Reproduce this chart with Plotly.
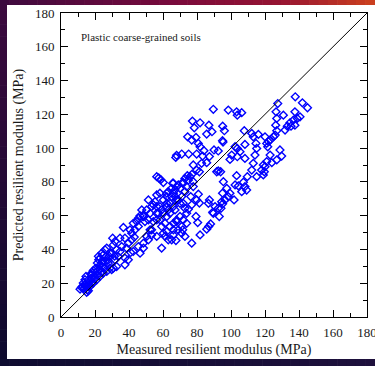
import plotly.graph_objects as go

# Measured resilient modulus (MPa)
measured = [
    11.2, 12.0, 12.7, 13.1, 13.5, 14.1, 14.1, 14.7, 14.5, 15.1, 15.5, 15.1, 16.1, 16.1, 16.7, 17.0,
    17.0, 17.5, 18.0, 18.0, 18.6, 18.5, 19.0, 19.0, 19.5, 20.0, 20.6, 21.0, 21.0, 21.4, 21.5, 22.0,
    22.2, 22.5, 22.9, 22.9, 22.9, 23.5, 23.9, 23.9, 23.9, 24.5, 24.9, 24.9, 25.5, 25.9, 25.9, 26.5,
    26.9, 26.9, 27.5, 27.8, 28.3, 28.8, 28.8, 29.8, 29.8, 30.4, 30.8, 30.8, 31.5, 31.8, 31.8, 32.7,
    32.7, 33.7, 34.7, 34.7, 35.7, 36.7, 37.6, 37.6, 37.6, 38.6, 39.6, 39.6, 40.6, 41.0, 41.6, 41.6,
    42.5, 42.5, 43.1, 43.5, 44.5, 45.5, 45.5, 45.5, 46.5, 46.5, 47.5, 48.5, 48.5, 48.5, 48.5, 49.4,
    50.4, 50.4, 51.4, 51.4, 51.4, 52.4, 52.4, 53.3, 53.3, 53.3, 54.3, 54.3, 55.3, 56.3, 56.3, 56.3,
    56.3, 56.3, 56.3, 57.3, 57.5, 58.2, 58.2, 58.2, 58.7, 59.2, 59.2, 59.2, 60.2, 60.2, 60.2, 60.2,
    61.2, 61.2, 62.2, 62.2, 62.2, 62.2, 62.2, 62.2, 63.1, 63.1, 63.1, 64.1, 64.1, 64.1, 65.1, 65.1,
    65.1, 65.7, 66.1, 66.1, 66.1, 66.1, 66.1, 66.1, 67.1, 67.1, 67.1, 67.6, 68.0, 68.0, 68.0, 68.0,
    68.0, 67.5, 69.0, 69.0, 69.0, 70.0, 70.0, 70.0, 71.0, 71.0, 71.0, 71.0, 71.6, 71.6, 71.9, 71.9,
    71.9, 72.9, 72.9, 72.9, 72.9, 73.9, 73.9, 73.9, 74.3, 74.5, 74.9, 74.9, 75.1, 75.9, 76.3, 76.9,
    76.9, 76.9, 77.0, 77.3, 77.8, 77.8, 77.8, 78.4, 79.4, 79.4, 79.8, 79.8, 79.8, 80.4, 80.8, 80.8,
    81.4, 81.4, 81.8, 81.8, 81.8, 82.7, 83.3, 84.1, 85.7, 85.7, 85.7, 86.7, 86.9, 87.0, 87.3, 87.3,
    88.0, 88.8, 89.2, 89.6, 89.6, 90.0, 90.6, 91.6, 92.5, 92.5, 92.5, 93.1, 93.9, 94.1, 94.5, 95.0,
    95.0, 95.1, 95.1, 95.3, 95.5, 96.1, 96.5, 97.5, 98.4, 98.4, 99.4, 99.4, 100.4, 101.8, 102.4, 102.4,
    103.3, 103.3, 103.7, 103.7, 103.7, 104.3, 105.3, 106.3, 106.3, 107.3, 107.8, 108.2, 108.2, 108.2,
    109.2, 109.6, 112.2, 112.2, 113.1, 113.1, 114.1, 114.7, 115.1, 115.1, 116.1, 118.0, 119.0, 119.0,
    119.6, 120.0, 120.0, 121.0, 121.0, 121.6, 122.0, 123.0, 123.0, 124.0, 125.0, 126.0, 126.3, 126.5,
    126.9, 126.9, 126.9, 127.5, 128.8, 129.8, 130.8, 131.8, 133.1, 134.7, 135.3, 136.7, 137.6, 137.6,
    137.8, 139.0, 140.6, 142.0, 145.0,
]

# Predicted resilient modulus (MPa)
predicted = [
    16.5, 17.5, 18.1, 20.1, 16.8, 22.1, 19.1, 24.0, 18.0, 17.7, 16.1, 14.6, 15.5, 22.1, 19.1, 21.0,
    18.1, 25.5, 23.0, 25.0, 26.0, 20.0, 27.6, 20.1, 22.5, 24.0, 29.0, 22.0, 27.0, 31.9, 25.0, 35.9,
    33.9, 30.0, 34.9, 28.0, 24.0, 26.5, 29.9, 31.9, 37.8, 33.0, 36.8, 26.0, 29.0, 39.8, 32.9, 35.8,
    40.8, 27.0, 33.5, 31.9, 36.0, 37.8, 29.0, 28.0, 37.8, 46.7, 29.0, 42.7, 36.0, 44.7, 33.9, 29.9,
    39.8, 35.8, 38.8, 46.7, 41.7, 53.0, 46.7, 34.9, 30.9, 40.8, 33.9, 43.7, 51.6, 38.2, 49.6, 45.7,
    38.8, 55.5, 47.3, 51.6, 56.5, 41.7, 53.6, 58.5, 59.9, 37.8, 63.4, 60.5, 43.7, 59.5, 40.8, 56.5,
    63.4, 47.7, 57.5, 45.7, 69.3, 51.6, 61.4, 48.6, 51.6, 65.4, 56.5, 66.4, 68.3, 65.4, 47.7, 61.4,
    57.5, 72.3, 83.1, 61.4, 82.3, 57.5, 65.4, 73.3, 81.3, 53.6, 63.4, 40.8, 49.6, 69.3, 61.4, 79.6,
    55.5, 47.7, 59.5, 50.6, 71.3, 65.4, 67.3, 73.3, 63.4, 74.2, 45.7, 67.3, 53.6, 61.4, 71.3, 76.2,
    45.7, 79.2, 73.3, 55.5, 65.4, 79.2, 48.6, 51.6, 75.2, 71.3, 63.4, 45.3, 77.2, 57.5, 69.3, 56.5,
    95.7, 94.5, 78.2, 69.3, 51.6, 76.2, 59.5, 67.3, 71.3, 53.6, 49.6, 96.5, 51.6, 79.8, 67.3, 57.5,
    79.2, 64.4, 74.2, 47.7, 82.0, 77.2, 55.5, 61.4, 83.7, 106.7, 63.8, 81.0, 96.5, 83.1, 71.3, 66.4,
    43.7, 104.8, 84.5, 116.0, 77.2, 80.1, 90.0, 112.0, 106.3, 59.5, 69.3, 87.0, 96.5, 55.9, 72.7, 102.8,
    67.5, 86.0, 48.6, 100.8, 115.0, 91.0, 95.3, 98.5, 52.0, 91.4, 108.3, 67.3, 53.6, 113.6, 69.3, 95.0,
    55.1, 109.7, 62.0, 123.0, 61.4, 98.9, 65.4, 86.0, 86.5, 98.3, 64.4, 59.5, 86.0, 64.4, 68.3, 104.4,
    73.3, 113.0, 67.0, 103.6, 80.1, 110.3, 69.3, 76.2, 122.5, 71.3, 73.3, 93.3, 95.9, 69.3, 100.8, 78.2,
    121.5, 83.7, 119.5, 99.8, 94.9, 77.6, 97.9, 121.0, 74.2, 79.8, 110.3, 102.2, 93.9, 77.2,
    75.2, 83.1, 87.0, 108.7, 91.0, 106.7, 95.9, 102.8, 99.8, 83.1, 108.1, 87.0, 90.0, 84.1,
    86.0, 89.0, 106.7, 92.0, 102.8, 100.8, 103.8, 104.8, 95.9, 91.4, 106.7, 107.7, 113.6, 121.5,
    110.3, 117.6, 93.0, 126.4, 98.9, 95.3, 119.5, 110.7, 113.0, 115.0, 113.0, 116.6, 113.6, 121.5,
    130.4, 117.6, 118.5, 126.8, 123.9,
]

line_of_equality = [0, 180]
tick_values = [0, 20, 40, 60, 80, 100, 120, 140, 160, 180]
x_title = "Measured resilient modulus (MPa)"
y_title = "Predicted resilient modulus (MPa)"
note = "Plastic coarse-grained soils"

FONT = "Liberation Serif"

fig = go.Figure()
fig.add_trace(go.Scatter(
    x=measured, y=predicted, mode="markers",
    marker=dict(symbol="diamond-open", size=6, color="#0000ff",
                line=dict(color="#0000ff", width=1.4)),
    showlegend=False, hoverinfo="skip", cliponaxis=False,
))
fig.add_trace(go.Scatter(
    x=line_of_equality, y=line_of_equality, mode="lines",
    line=dict(color="black", width=1), showlegend=False, hoverinfo="skip",
))

axis_common = dict(
    range=[0, 180], tickmode="array", tickvals=tick_values, automargin=False,
    ticks="inside", ticklen=7, tickwidth=1, tickcolor="black",
    showline=True, linecolor="black", linewidth=1, mirror="allticks",
    minor=dict(dtick=10, tick0=0, ticks="inside", ticklen=4, tickwidth=1, tickcolor="black"),
    showgrid=False, zeroline=False, ticklabeloverflow="allow",
    tickfont=dict(family=FONT, size=13, color="#1a1a1a"),
)

fig.update_layout(
    width=375, height=366, autosize=False,
    margin=dict(l=61, r=8, t=13, b=49),
    paper_bgcolor="white", plot_bgcolor="white",
    xaxis=dict(**axis_common, ticklabelstandoff=3,
               title=dict(text=x_title, font=dict(family=FONT, size=14, color="#1a1a1a"), standoff=5)),
    yaxis=dict(**axis_common, ticklabelstandoff=3,
               title=dict(text=y_title, font=dict(family=FONT, size=14, color="#1a1a1a"), standoff=8)),
    annotations=[dict(x=10.5, y=166, xref="x", yref="y", text=note, showarrow=False,
                      xanchor="left", yanchor="middle",
                      font=dict(family=FONT, size=11, color="#1a1a1a"))],
)

# decorative border strips (pixel -> paper conversion)
W, H = 375, 366
L, R, T, B = 61, 8, 13, 49
pw, ph = W - L - R, H - T - B

def px_x(p):
    return (p - L) / pw

def px_y(p):
    return (H - B - p) / ph

def lerp(c1, c2, t):
    return "#%02x%02x%02x" % tuple(int(round(a + (b - a) * t)) for a, b in zip(c1, c2))

shapes = []
top_stops = [(0, (60, 10, 62)), (0.45, (120, 10, 60)), (0.75, (150, 20, 50)), (1.0, (205, 65, 30))]
n = 40
for i in range(n):
    t = (i + 0.5) / n
    for j in range(len(top_stops) - 1):
        if top_stops[j][0] <= t <= top_stops[j + 1][0]:
            a, b = top_stops[j], top_stops[j + 1]
            col = lerp(a[1], b[1], (t - a[0]) / (b[0] - a[0]))
            break
    shapes.append(dict(type="rect", xref="paper", yref="paper", layer="below",
                       x0=px_x(W * i / n) - 0.001, x1=px_x(W * (i + 1) / n) + 0.001,
                       y0=px_y(5), y1=px_y(-2), fillcolor=col, line=dict(width=0)))
m = 30
for i in range(m):
    t = (i + 0.5) / m
    col = lerp((60, 10, 62), (12, 10, 45), t)
    shapes.append(dict(type="rect", xref="paper", yref="paper", layer="below",
                       x0=px_x(-2), x1=px_x(7),
                       y0=px_y(H * (i + 1) / m) - 0.001, y1=px_y(H * i / m) + 0.001,
                       fillcolor=col, line=dict(width=0)))
for i in range(n):
    t = (i + 0.5) / n
    col = lerp((14, 12, 48), (30, 16, 60), t)
    shapes.append(dict(type="rect", xref="paper", yref="paper", layer="below",
                       x0=px_x(W * i / n) - 0.001, x1=px_x(W * (i + 1) / n) + 0.001,
                       y0=px_y(H + 2), y1=px_y(359), fillcolor=col, line=dict(width=0)))
fig.update_layout(shapes=shapes)

fig.write_html(
    "out.html",
    config={"displayModeBar": False, "staticPlot": True},
    post_script="document.body.style.margin='0';document.body.style.overflow='hidden';"
                "document.documentElement.style.overflow='hidden';",
)
